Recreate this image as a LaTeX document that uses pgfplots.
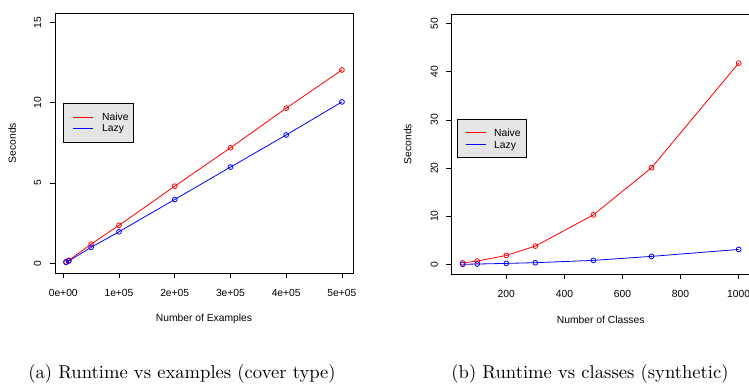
\documentclass[border=0pt]{standalone}
\usepackage{fontspec}
\usepackage{pgfplots}
\pgfplotsset{compat=1.18}
\newfontfamily\rfont{Liberation Sans}
\newcommand\rsize{\rfont\fontsize{10.3}{11}\selectfont}
\pgfplotsset{rstyle/.style={
  scale only axis, width=298pt, height=260pt, anchor=south west,
  axis line style={black, line width=0.8pt},
  tick align=outside, major tick length=5.5pt,
  every tick/.style={black, line width=0.8pt},
  xtick pos=left, ytick pos=left,
  tick label style={font=\rsize},
  label style={font=\rsize},
  xticklabel style={anchor=north, inner sep=0pt},
  yticklabel style={rotate=90, anchor=south, inner sep=0pt},
  xticklabel shift=11pt, yticklabel shift=8pt,
  scaled x ticks=false, scaled y ticks=false,
  xlabel style={at={(axis description cs:0.5,-0.177)}, anchor=center},
  ylabel style={at={(axis description cs:-0.144,0.5)}, anchor=center},
  every axis plot/.append style={line width=0.8pt, mark=o, mark size=2.4pt, mark options={solid}},
}}
% legend: #1,#2 box corners x; #3,#4 box y; #5,#6 line x; #7 text x; #8,#9 row y
\newcommand\rlegend[9]{%
  \draw[black, line width=0.8pt, fill=black!10] (axis description cs:#1,#3) rectangle (axis description cs:#2,#4);
  \draw[red, line width=0.8pt] (axis description cs:#5,#8) -- (axis description cs:#6,#8);
  \draw[blue, line width=0.8pt] (axis description cs:#5,#9) -- (axis description cs:#6,#9);
  \node[anchor=base west, inner sep=0pt, yshift=-3.7pt, font=\rsize] at (axis description cs:#7,#8) {Naive};
  \node[anchor=base west, inner sep=0pt, yshift=-3.7pt, font=\rsize] at (axis description cs:#7,#9) {Lazy};
}
\begin{document}
\begin{tikzpicture}
\useasboundingbox (0,0) rectangle (749pt,387pt);
\begin{axis}[rstyle, at={(55pt,114pt)},
  xmin=-14800, xmax=519800, ymin=-0.6, ymax=15.6,
  xtick={0,100000,200000,300000,400000,500000},
  xticklabels={0e+00,1e+05,2e+05,3e+05,4e+05,5e+05},
  ytick={0,5,10,15}, yticklabels={0,5,10,15},
  xlabel={Number of Examples}, ylabel={Seconds}]
\addplot[red] coordinates {(5000,0.1) (10000,0.19) (50000,1.2) (100000,2.37) (200000,4.81) (300000,7.2) (400000,9.67) (500000,12.05)};
\addplot[blue] coordinates {(5000,0.06) (10000,0.15) (50000,1.0) (100000,1.97) (200000,3.98) (300000,6.0) (400000,8.0) (500000,10.06)};
\rlegend{0.027}{0.262}{0.654}{0.504}{0.0604}{0.1275}{0.1577}{0.6}{0.5577}
\end{axis}
\begin{axis}[rstyle, at={(451.7pt,113pt)},
  xmin=12, xmax=1038, ymin=-2, ymax=52,
  xtick={200,400,600,800,1000},
  xticklabels={200,400,600,800,1000},
  ytick={0,10,20,30,40,50}, yticklabels={0,10,20,30,40,50},
  xlabel={Number of Classes}, ylabel={Seconds},
  ylabel style={at={(axis description cs:-0.148,0.5)}}]
\addplot[red] coordinates {(50,0.3) (100,0.69) (200,1.86) (300,3.8) (500,10.28) (700,20.07) (1000,41.8)};
\addplot[blue] coordinates {(50,0.02) (100,0.07) (200,0.2) (300,0.35) (500,0.83) (700,1.66) (1000,3.1)};
\rlegend{0.018}{0.249}{0.595}{0.449}{0.048}{0.115}{0.142}{0.5447}{0.4987}
\end{axis}
\node[anchor=base, scale=1.86, inner sep=0pt] at (182pt,8pt) {(a) Runtime vs examples (cover type)};
\node[anchor=base, scale=1.86, inner sep=0pt] at (590pt,8pt) {(b) Runtime vs classes (synthetic)};
\end{tikzpicture}
\end{document}
